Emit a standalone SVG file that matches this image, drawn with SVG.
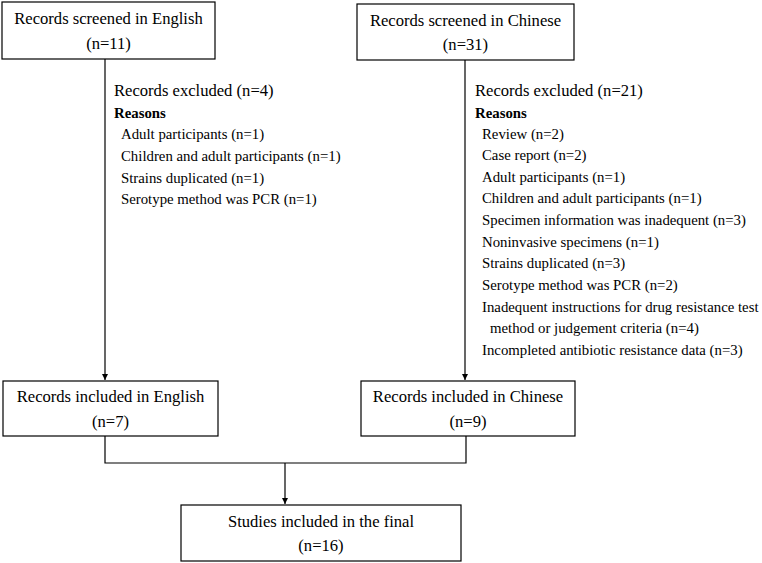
<svg xmlns="http://www.w3.org/2000/svg" width="762" height="563" viewBox="0 0 762 563">
<style>
.box{fill:#fff;stroke:#000;stroke-width:1.2}
.t{font-family:"Liberation Serif","Times New Roman",serif;font-size:16.6px;fill:#000}
.s{font-size:14.8px}
.c{text-anchor:middle}
.b{font-weight:bold}
.ln{fill:none;stroke:#000;stroke-width:1.2}
</style>
<defs>
<marker id="ah" viewBox="0 0 8 8" refX="8" refY="4" markerWidth="6" markerHeight="6" orient="auto" markerUnits="userSpaceOnUse">
<path d="M0,0 L8,4 L0,8 z" fill="#000"/>
</marker>
</defs>
<rect width="762" height="563" fill="#fff"/>
<g id="connectors">
<path class="ln" d="M105,59 V380" marker-end="url(#ah)"/>
<path class="ln" d="M465,60 V380" marker-end="url(#ah)"/>
<path class="ln" d="M105,436 V463 H466 V436"/>
<path class="ln" d="M285,463 V504" marker-end="url(#ah)"/>
</g>
<g id="english-screened">
<rect class="box" x="2" y="2" width="213" height="57"/>
<text class="t c" x="108.5" y="24">Records screened in English</text>
<text class="t c" x="108.5" y="49">(n=11)</text>
</g>
<g id="chinese-screened">
<rect class="box" x="357" y="4" width="217" height="56"/>
<text class="t c" x="465.5" y="26">Records screened in Chinese</text>
<text class="t c" x="465.5" y="50">(n=31)</text>
</g>
<g id="english-excluded">
<text class="t" x="114" y="96">Records excluded (n=4)</text>
<text class="t s b" x="114" y="118">Reasons</text>
<text class="t s" x="121" y="139">Adult participants (n=1)</text>
<text class="t s" x="121" y="161">Children and adult participants (n=1)</text>
<text class="t s" x="121" y="183">Strains duplicated (n=1)</text>
<text class="t s" x="121" y="204">Serotype method was PCR (n=1)</text>
</g>
<g id="chinese-excluded">
<text class="t" x="475" y="96">Records excluded (n=21)</text>
<text class="t s b" x="475" y="118">Reasons</text>
<text class="t s" x="482" y="139">Review (n=2)</text>
<text class="t s" x="482" y="160">Case report (n=2)</text>
<text class="t s" x="482" y="182">Adult participants (n=1)</text>
<text class="t s" x="482" y="203">Children and adult participants (n=1)</text>
<text class="t s" x="482" y="225">Specimen information was inadequent (n=3)</text>
<text class="t s" x="482" y="247">Noninvasive specimens (n=1)</text>
<text class="t s" x="482" y="268">Strains duplicated (n=3)</text>
<text class="t s" x="482" y="290">Serotype method was PCR (n=2)</text>
<text class="t s" x="482" y="312">Inadequent instructions for drug resistance test</text>
<text class="t s" x="490" y="333">method or judgement criteria (n=4)</text>
<text class="t s" x="482" y="355">Incompleted antibiotic resistance data (n=3)</text>
</g>
<g id="english-included">
<rect class="box" x="3" y="381" width="215" height="55"/>
<text class="t c" x="110.5" y="402">Records included in English</text>
<text class="t c" x="110.5" y="427">(n=7)</text>
</g>
<g id="chinese-included">
<rect class="box" x="361" y="381" width="214" height="55"/>
<text class="t c" x="468" y="402">Records included in Chinese</text>
<text class="t c" x="468" y="427">(n=9)</text>
</g>
<g id="final">
<rect class="box" x="181" y="505" width="280" height="56"/>
<text class="t c" x="321" y="527">Studies included in the final</text>
<text class="t c" x="321" y="551">(n=16)</text>
</g>
</svg>
